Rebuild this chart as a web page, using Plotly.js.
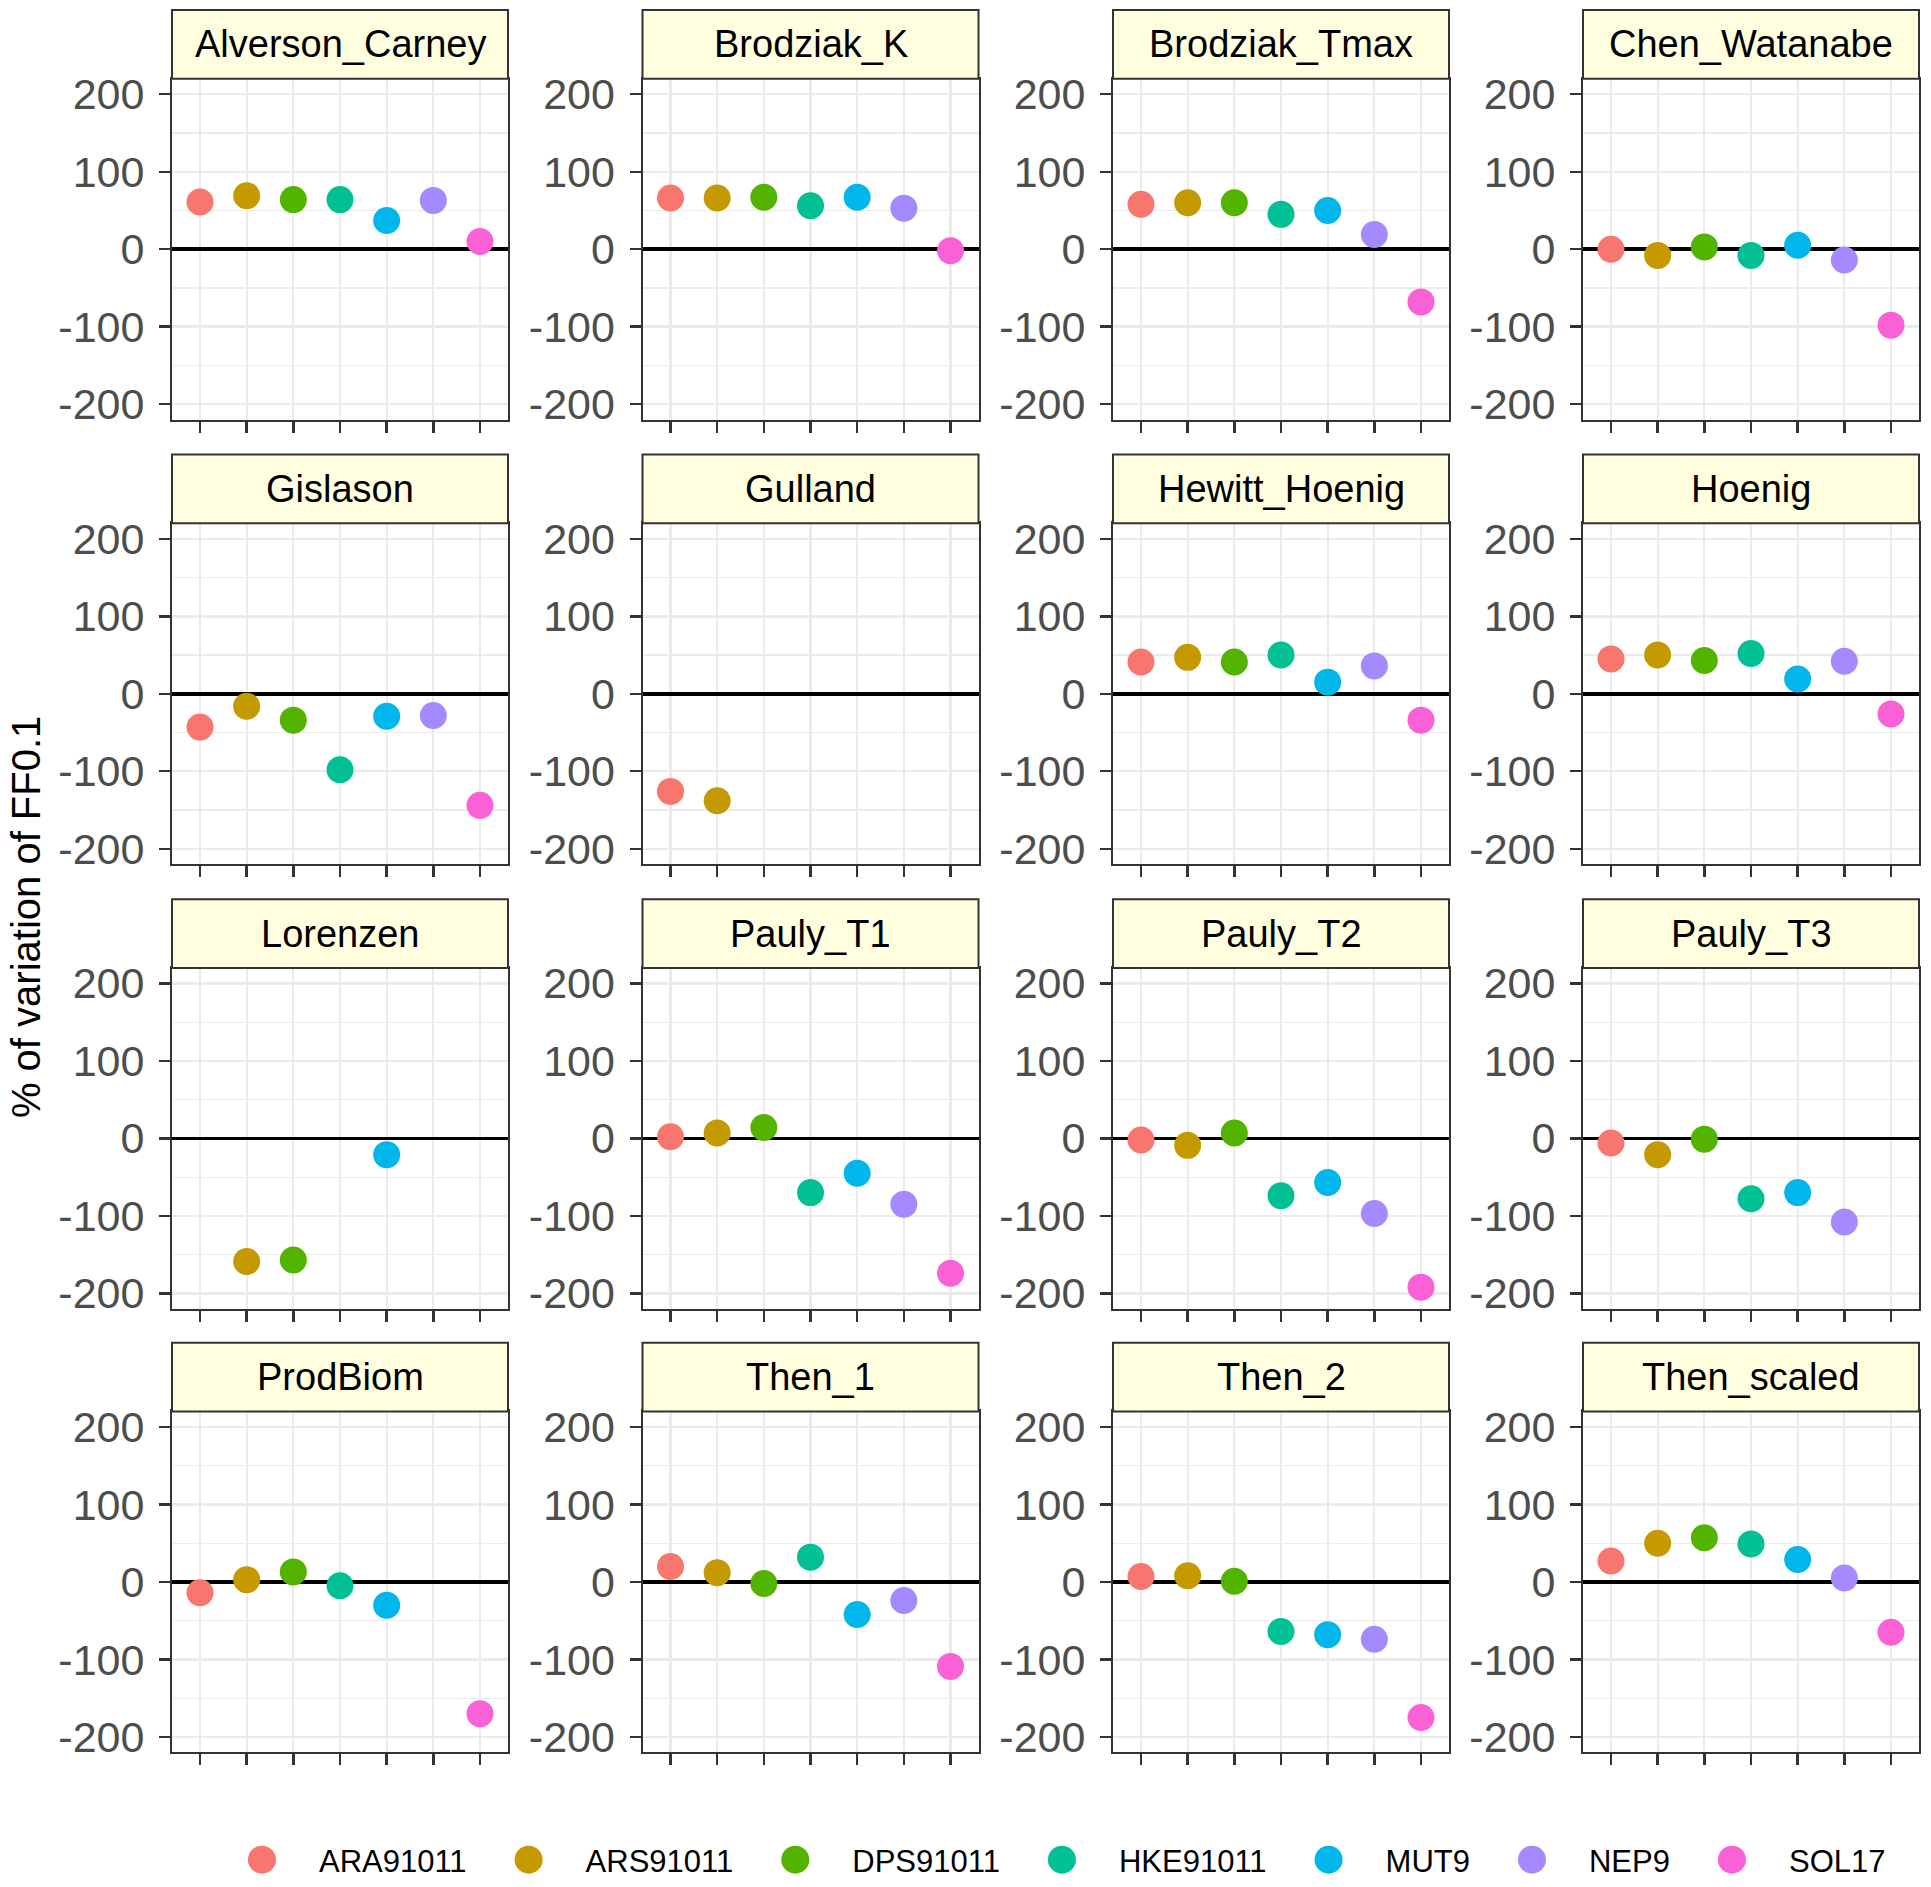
<!DOCTYPE html>
<html>
<head>
<meta charset="utf-8">
<script src="https://cdn.plot.ly/plotly-3.0.1.min.js"></script>
<style>html,body{margin:0;padding:0;background:#fff;}</style>
</head>
<body>
<div id="chart" style="width:1931px;height:1887px;"></div>
<script>
// ---- data ----
const stocks = ['ARA91011', 'ARS91011', 'DPS91011', 'HKE91011', 'MUT9', 'NEP9', 'SOL17'];
const stockColors = ['#F8766D', '#C49A00', '#53B400', '#00C094', '#00B6EB', '#A58AFF', '#FB61D7'];
const methods = ['Alverson_Carney', 'Brodziak_K', 'Brodziak_Tmax', 'Chen_Watanabe',
                 'Gislason', 'Gulland', 'Hewitt_Hoenig', 'Hoenig',
                 'Lorenzen', 'Pauly_T1', 'Pauly_T2', 'Pauly_T3',
                 'ProdBiom', 'Then_1', 'Then_2', 'Then_scaled'];
const Alverson_Carney = [61, 69, 64, 64, 37, 63, 10];
const Brodziak_K      = [66, 66, 67, 56, 67, 53, -2];
const Brodziak_Tmax   = [58, 60, 60, 45, 50, 19, -68];
const Chen_Watanabe   = [0, -8, 3, -8, 5, -14, -98];
const Gislason        = [-43, -16, -34, -98, -29, -28, -144];
const Gulland         = [-126, -138, null, null, null, null, null];
const Hewitt_Hoenig   = [41, 47, 41, 50, 15, 36, -34];
const Hoenig          = [45, 50, 43, 52, 19, 42, -26];
const Lorenzen        = [null, -159, -157, null, -21, null, null];
const Pauly_T1        = [2, 7, 14, -70, -45, -85, -174];
const Pauly_T2        = [-2, -9, 7, -74, -57, -97, -192];
const Pauly_T3        = [-6, -21, -1, -78, -70, -108, null];
const ProdBiom        = [-14, 3, 13, -5, -30, null, -170];
const Then_1          = [20, 12, -2, 32, -42, -24, -109];
const Then_2          = [7, 8, 1, -64, -68, -74, -175];
const Then_scaled     = [27, 50, 57, 49, 29, 5, -65];
const yTickVals = [-200, -100, 0, 100, 200];
const yTickText = ['-200', '-100', '0', '100', '200'];
const yTitle = '% of variation of FF0.1';

const valuesByMethod = {Alverson_Carney, Brodziak_K, Brodziak_Tmax, Chen_Watanabe,
  Gislason, Gulland, Hewitt_Hoenig, Hoenig, Lorenzen, Pauly_T1, Pauly_T2, Pauly_T3,
  ProdBiom, Then_1, Then_2, Then_scaled};

// ---- layout geometry (pixels) ----
const W = 1931, H = 1887;
const colLeft = [172, 642.5, 1113, 1583];
const panelW = 336;
const rowTop = [79, 525, 971, 1416];
const panelH = 342;
const stripH = 69;
const FONT = 'Liberation Sans, Arial, Helvetica, sans-serif';
const px = v => v / W;
const py = v => 1 - v / H;

const traces = [];
const layout = {
  width: W, height: H,
  margin: {l: 0, r: 0, t: 0, b: 0},
  paper_bgcolor: '#ffffff',
  plot_bgcolor: '#ffffff',
  font: {family: FONT, color: '#000000'},
  showlegend: true,
  legend: {
    orientation: 'h',
    x: 0.5427, xanchor: 'center',
    y: py(1866), yanchor: 'middle',
    font: {size: 31, family: FONT, color: '#000000'},
    itemwidth: 104,
    traceorder: 'normal',
    bgcolor: 'rgba(0,0,0,0)'
  },
  shapes: [],
  annotations: []
};

methods.forEach((m, i) => {
  const r = Math.floor(i / 4), c = i % 4;
  const n = i + 1;
  const xa = 'xaxis' + (n === 1 ? '' : n);
  const ya = 'yaxis' + (n === 1 ? '' : n);
  const xr = 'x' + (n === 1 ? '' : n);
  const yr = 'y' + (n === 1 ? '' : n);
  const x0 = colLeft[c], x1 = colLeft[c] + panelW;
  const top = rowTop[r], bot = rowTop[r] + panelH;

  layout[xa] = {
    domain: [px(x0), px(x1)],
    anchor: yr,
    type: 'category',
    categoryorder: 'array',
    categoryarray: stocks,
    range: [-0.6, 6.6],
    showgrid: true, gridcolor: '#ebebeb', gridwidth: 2.2,
    showticklabels: false,
    ticks: 'outside', ticklen: 11, tickwidth: 2.4, tickcolor: '#333333',
    showline: true, linecolor: '#333333', linewidth: 2, mirror: true,
    zeroline: false, fixedrange: true
  };
  layout[ya] = {
    domain: [py(bot), py(top)],
    anchor: xr,
    range: [-220, 220],
    tickmode: 'array', tickvals: yTickVals, ticktext: yTickText,
    showgrid: true, gridcolor: '#ebebeb', gridwidth: 2.4,
    minor: {dtick: 50, tick0: 0, showgrid: true, gridcolor: '#ebebeb', gridwidth: 1.2, ticks: ''},
    ticks: 'outside', ticklen: 11, tickwidth: 2.4, tickcolor: '#333333',
    tickfont: {size: 43, family: FONT, color: '#4d4d4d'},
    ticklabelstandoff: 6,
    showline: true, linecolor: '#333333', linewidth: 2, mirror: true,
    zeroline: true, zerolinecolor: '#000000', zerolinewidth: 3.6,
    fixedrange: true
  };

  // strip
  layout.shapes.push({
    type: 'rect', xref: 'paper', yref: 'paper',
    x0: px(x0), x1: px(x1), y0: py(top), y1: py(top - stripH),
    fillcolor: '#FFFFE0', line: {color: '#333333', width: 2}, layer: 'above'
  });
  layout.annotations.push({
    xref: 'paper', yref: 'paper',
    x: px((x0 + x1) / 2), y: py(top - stripH / 2),
    xanchor: 'center', yanchor: 'middle',
    text: m, showarrow: false,
    font: {size: 38, family: FONT, color: '#000000'}
  });

  const vals = valuesByMethod[m];
  stocks.forEach((s, k) => {
    traces.push({
      type: 'scatter', mode: 'markers',
      x: [s], y: [vals[k]],
      xaxis: xr, yaxis: yr,
      name: s, legendgroup: s,
      showlegend: i === 0,
      marker: {color: stockColors[k], size: 27, line: {width: 0}},
      cliponaxis: false,
      hoverinfo: 'skip'
    });
  });
});

layout.annotations.push({
  xref: 'paper', yref: 'paper',
  x: px(26), y: py(920),
  xanchor: 'center', yanchor: 'middle',
  text: yTitle, textangle: -90, showarrow: false,
  font: {size: 40, family: FONT, color: '#000000'}
});

Plotly.newPlot('chart', traces, layout, {displayModeBar: false, staticPlot: true}).then(gd => {
  // legend keys in the reference are as large as the plotted points
  const r = 14;
  gd.querySelectorAll('.legend .legendpoints path.scatterpts').forEach(p => {
    p.setAttribute('d', 'M' + r + ',0A' + r + ',' + r + ' 0 1,1 0,-' + r + 'A' + r + ',' + r + ' 0 0,1 ' + r + ',0Z');
  });
});
</script>
</body>
</html>
